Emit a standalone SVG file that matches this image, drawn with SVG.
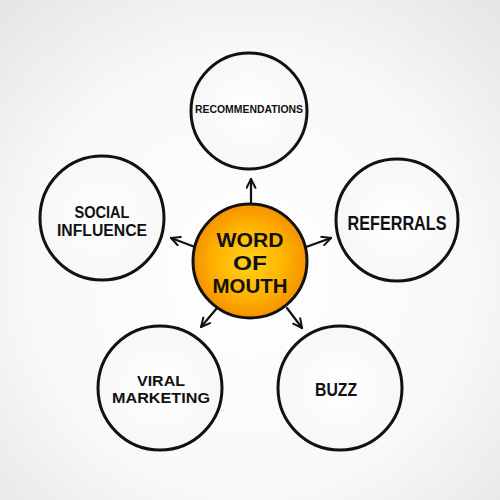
<svg xmlns="http://www.w3.org/2000/svg" width="500" height="500" viewBox="0 0 500 500">
<defs>
<radialGradient id="bg" cx="0.5" cy="0.55" r="0.75">
<stop offset="0" stop-color="#ffffff"/>
<stop offset="0.6" stop-color="#f8f8f8"/>
<stop offset="1" stop-color="#e4e4e4"/>
</radialGradient>
<radialGradient id="orange" cx="0.5" cy="0.5" r="0.5">
<stop offset="0" stop-color="#ffd21a"/>
<stop offset="0.6" stop-color="#ffb400"/>
<stop offset="1" stop-color="#f59200"/>
</radialGradient>
<radialGradient id="white" cx="0.5" cy="0.5" r="0.5">
<stop offset="0" stop-color="#ffffff"/>
<stop offset="1" stop-color="#f7f7f7"/>
</radialGradient>
<marker id="arr" viewBox="0 0 10 10" refX="9" refY="5" markerWidth="11" markerHeight="11" markerUnits="userSpaceOnUse" orient="auto">
<path d="M1,1 L9,5 L1,9" fill="none" stroke="#111" stroke-width="1.8" stroke-linecap="round" stroke-linejoin="round"/>
</marker>
</defs>
<style>
.c{fill:url(#white);stroke:#111;stroke-width:3}
.t{font-family:"Liberation Sans",Arial,sans-serif;font-weight:bold;fill:#111;text-anchor:middle}
.con line{stroke:#111;stroke-width:2.2;stroke-linecap:round;marker-end:url(#arr)}
</style>
<rect width="500" height="500" fill="url(#bg)"/>
<g class="con" id="connectors">
<line x1="251" y1="203" x2="251" y2="179"/>
<line x1="195" y1="247" x2="171" y2="238"/>
<line x1="306" y1="247" x2="331" y2="238"/>
<line x1="217" y1="308" x2="201" y2="327"/>
<line x1="287" y1="308" x2="302" y2="328"/>
</g>
<g id="center">
<circle cx="250" cy="261" r="57" fill="url(#orange)" stroke="#111" stroke-width="3"/>
<text class="t" x="250" y="247" font-size="21" textLength="67" lengthAdjust="spacingAndGlyphs">WORD</text>
<text class="t" x="250" y="270" font-size="21" textLength="34" lengthAdjust="spacingAndGlyphs">OF</text>
<text class="t" x="250" y="293" font-size="21" textLength="75" lengthAdjust="spacingAndGlyphs">MOUTH</text>
</g>
<g id="recommendations">
<circle class="c" cx="249" cy="111" r="58"/>
<text class="t" x="249" y="113" font-size="11" textLength="108" lengthAdjust="spacingAndGlyphs">RECOMMENDATIONS</text>
</g>
<g id="social-influence">
<circle class="c" cx="102" cy="218" r="62"/>
<text class="t" x="102" y="218" font-size="16" textLength="55" lengthAdjust="spacingAndGlyphs">SOCIAL</text>
<text class="t" x="102" y="236" font-size="16" textLength="90" lengthAdjust="spacingAndGlyphs">INFLUENCE</text>
</g>
<g id="referrals">
<circle class="c" cx="397" cy="220" r="61"/>
<text class="t" x="397" y="230" font-size="20" textLength="99" lengthAdjust="spacingAndGlyphs">REFERRALS</text>
</g>
<g id="viral-marketing">
<circle class="c" cx="160" cy="388" r="62"/>
<text class="t" x="161" y="386" font-size="15" textLength="48" lengthAdjust="spacingAndGlyphs">VIRAL</text>
<text class="t" x="161" y="403" font-size="15" textLength="98" lengthAdjust="spacingAndGlyphs">MARKETING</text>
</g>
<g id="buzz">
<circle class="c" cx="340" cy="388" r="62"/>
<text class="t" x="336" y="396" font-size="19" textLength="42" lengthAdjust="spacingAndGlyphs">BUZZ</text>
</g>
</svg>
